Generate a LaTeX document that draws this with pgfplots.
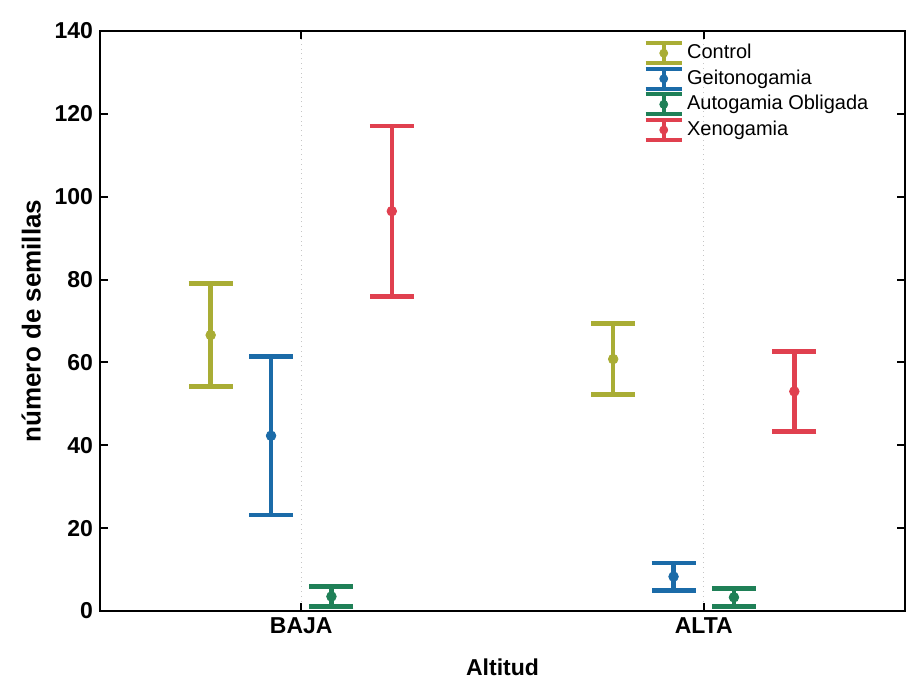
\documentclass[border=0pt]{standalone}
\usepackage{pgfplots}
\pgfplotsset{compat=1.18}
\usepackage{fontspec}
\setmainfont{Liberation Sans}
\definecolor{cctrl}{HTML}{A9AD35}
\definecolor{cgeit}{HTML}{1B6BA8}
\definecolor{cauto}{HTML}{1F8057}
\definecolor{cxeno}{HTML}{E0404F}
\pgfplotsset{
  ebar/.style={
    color=#1, only marks, mark=*, mark size=2.4pt,
    mark options={fill=#1, draw=#1},
    error bars/.cd, y dir=both, y explicit, error mark=|,
      error bar style={line width=2.3pt, #1},
      error mark options={line width=2.3pt, mark size=11pt, #1},
    /pgfplots/.cd,
    legend image code/.code={
      \draw[#1, line width=2pt] (10pt,-5pt) -- (10pt,5pt);
      \draw[#1, line width=2pt] (1pt,5pt) -- (19pt,5pt);
      \draw[#1, line width=2pt] (1pt,-5pt) -- (19pt,-5pt);
      \fill[#1] (10pt,0pt) circle (2pt);
      \path (0pt,0pt) (21pt,0pt);
    }
  }
}
\begin{document}
\begin{tikzpicture}
\useasboundingbox (-50pt,-36pt) rectangle (404.5pt,305.5pt);
\begin{axis}[
  scale only axis,
  width=402.5pt, height=290pt,
  xmin=0.5, xmax=2.5, ymin=0, ymax=140,
  xtick={1,2}, xticklabels={BAJA,ALTA},
  ytick={0,20,40,60,80,100,120,140},
  xmajorgrids, ymajorgrids=false,
  grid style={dotted, gray!45, line width=0.6pt},
  axis line style={line width=1.2pt, black},
  tick style={black, line width=1pt},
  major tick length=4pt,
  /pgf/number format/assume math mode=true,
  ticklabel style={font=\bfseries\fontsize{11.5}{13}\selectfont},
  xlabel={Altitud},
  ylabel={número de semillas},
  xlabel style={font=\bfseries\fontsize{11.5}{13}\selectfont, yshift=-5.5pt},
  ylabel style={font=\bfseries\fontsize{13}{15}\selectfont},
  legend style={at={(axis description cs:0.667,0.99)}, anchor=north west,
    draw=none, fill=none, font=\fontsize{10}{12}\selectfont,
    row sep=0.8pt, cells={anchor=west},
    nodes={inner sep=0.5pt, text height=7.5pt, text depth=2pt}},
]
\addplot[ebar=cctrl] coordinates {
  (0.775,66.6) +- (0,12.4)
  (1.775,60.8) +- (0,8.6)
};
\addlegendentry{Control}
\addplot[ebar=cgeit] coordinates {
  (0.925,42.3) +- (0,19.1)
  (1.925,8.3) +- (0,3.3)
};
\addlegendentry{Geitonogamia}
\addplot[ebar=cauto] coordinates {
  (1.075,3.5) +- (0,2.4)
  (2.075,3.3) +- (0,2.2)
};
\addlegendentry{Autogamia Obligada}
\addplot[ebar=cxeno] coordinates {
  (1.225,96.5) +- (0,20.6)
  (2.225,53.0) +- (0,9.7)
};
\addlegendentry{Xenogamia}
\end{axis}
\end{tikzpicture}
\end{document}
